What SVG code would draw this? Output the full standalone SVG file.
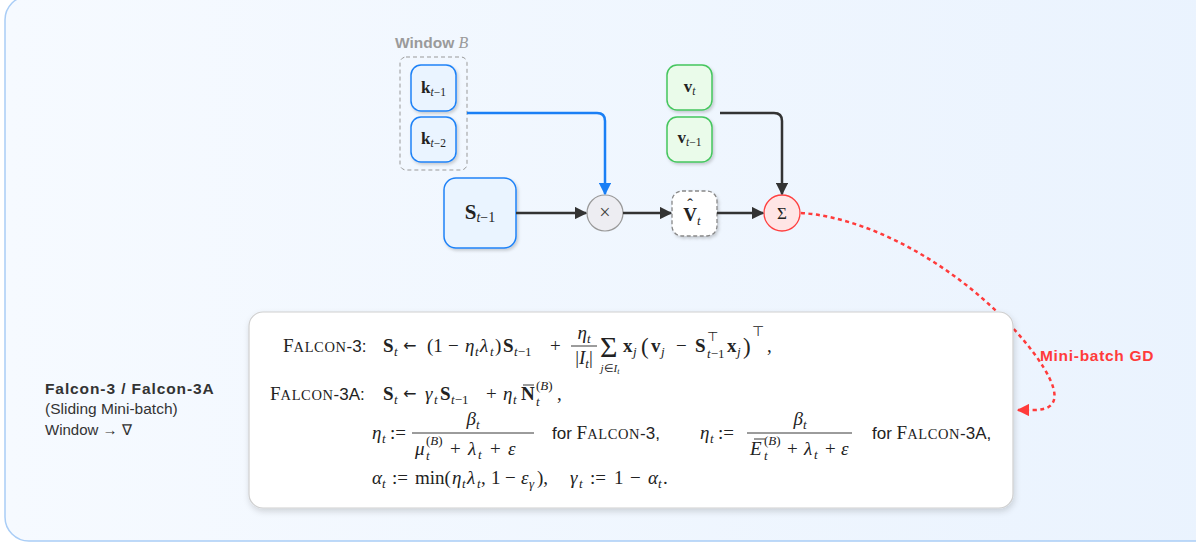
<svg xmlns="http://www.w3.org/2000/svg" width="1196" height="542" viewBox="0 0 1196 542">
<defs>
<linearGradient id="bg" x1="0" y1="0" x2="1" y2="0"><stop offset="0" stop-color="#f6faff"/><stop offset="1" stop-color="#eaf3fe"/></linearGradient>
<filter id="sh" x="-30%" y="-30%" width="160%" height="160%"><feDropShadow dx="1.5" dy="2" stdDeviation="1.8" flood-color="#000" flood-opacity="0.18"/></filter>
<filter id="shb" x="-10%" y="-10%" width="120%" height="130%"><feDropShadow dx="1" dy="3" stdDeviation="3" flood-color="#000" flood-opacity="0.15"/></filter>
<marker id="ab" viewBox="0 0 10 10" refX="9" refY="5" markerWidth="5" markerHeight="5" orient="auto" markerUnits="strokeWidth"><path d="M0,0 L10,5 L0,10 z" fill="#1a7ff5"/></marker>
<marker id="ak" viewBox="0 0 10 10" refX="9" refY="5" markerWidth="5" markerHeight="5" orient="auto" markerUnits="strokeWidth"><path d="M0,0 L10,5 L0,10 z" fill="#333"/></marker>
<marker id="ar" viewBox="0 0 10 10" refX="9" refY="5" markerWidth="5" markerHeight="5" orient="auto" markerUnits="strokeWidth"><path d="M0,0 L10,5 L0,10 z" fill="#ff3b3b"/></marker>
<style>
.m{font-family:"Liberation Serif",serif;font-size:19px;fill:#222}
.s{font-size:13px}
.b{font-weight:bold}
.i{font-style:italic}
.n{font-style:normal}
.ar{font-family:"DejaVu Sans",sans-serif;font-size:16px}
.sf{font-family:"Liberation Sans",sans-serif}
.sc{font-size:14.5px;letter-spacing:0.6px}
.sfm{font-family:"Liberation Sans",sans-serif;font-size:17px}
.kb{fill:#eaf4ff;stroke:#1f82f7;stroke-width:1.5}
.vb{fill:#eafbea;stroke:#45c65e;stroke-width:1.5}
.conn{fill:none;stroke-width:2.5}
.bar{stroke:#222;stroke-width:0.9}
</style>
</defs>
<rect x="5" y="-4" width="1215" height="545" rx="24" fill="url(#bg)" stroke="#a9cdf6" stroke-width="1.5"/>

<g id="window">
<text x="395" y="48" class="sf" font-size="15.5" font-weight="bold" fill="#9a9a9a">Window <tspan class="m i" style="font-size:16px;font-weight:normal;fill:#9a9a9a">B</tspan></text>
<rect x="400" y="57" width="67" height="113" rx="6" fill="none" stroke="#999" stroke-width="1" stroke-dasharray="4 3"/>
</g>
<g id="k1"><rect x="411" y="65" width="45" height="46" rx="10" class="kb" filter="url(#sh)"/>
<text x="433.5" y="93" class="m" text-anchor="middle"><tspan class="b" font-size="17">k</tspan><tspan font-size="11.5" dy="3"><tspan class="i">t</tspan>−1</tspan></text></g>
<g id="k2"><rect x="411" y="117" width="45" height="45" rx="10" class="kb" filter="url(#sh)"/>
<text x="433.5" y="144" class="m" text-anchor="middle"><tspan class="b" font-size="17">k</tspan><tspan font-size="11.5" dy="3"><tspan class="i">t</tspan>−2</tspan></text></g>
<g id="S"><rect x="444" y="178" width="72" height="70" rx="12" class="kb" filter="url(#sh)"/>
<text x="480" y="219" class="m" text-anchor="middle"><tspan class="b" font-size="21">S</tspan><tspan font-size="14" dy="3"><tspan class="i">t</tspan>−1</tspan></text></g>
<g id="mul"><circle cx="605" cy="213" r="18" fill="#ededf2" stroke="#999" stroke-width="1.2"/>
<text x="605" y="219" class="m" style="font-size:20px;fill:#444" text-anchor="middle">×</text></g>
<g id="vhat"><rect x="672" y="191" width="45" height="45" rx="10" fill="#fff" stroke="#888" stroke-width="1.3" stroke-dasharray="4 2.5" filter="url(#sh)"/>
<text x="690" y="221" class="m b" text-anchor="middle">V</text>
<text x="690" y="210" class="m" style="font-size:17px" text-anchor="middle">ˆ</text>
<text x="697" y="225" class="m i" style="font-size:13px">t</text></g>
<g id="sum"><circle cx="782" cy="213" r="18" fill="#ffe5e5" stroke="#ff4040" stroke-width="1.3"/>
<text x="782" y="219" class="m" style="font-size:17px" text-anchor="middle">Σ</text></g>
<g id="v1"><rect x="667" y="65" width="45" height="45" rx="10" class="vb" filter="url(#sh)"/>
<text x="689.5" y="92" class="m" text-anchor="middle"><tspan class="b" font-size="17">v</tspan><tspan font-size="11.5" dy="3" class="i">t</tspan></text></g>
<g id="v2"><rect x="667" y="117" width="45" height="45" rx="10" class="vb" filter="url(#sh)"/>
<text x="689.5" y="143" class="m" text-anchor="middle"><tspan class="b" font-size="17">v</tspan><tspan font-size="11.5" dy="3"><tspan class="i">t</tspan>−1</tspan></text></g>

<g id="connectors">
<path class="conn" stroke="#1a7ff5" d="M467,113 H597 Q605,113 605,121 V194" marker-end="url(#ab)"/>
<path class="conn" stroke="#333" d="M516,213 H586" marker-end="url(#ak)"/>
<path class="conn" stroke="#333" d="M623,213 H671" marker-end="url(#ak)"/>
<path class="conn" stroke="#333" d="M717,213 H763" marker-end="url(#ak)"/>
<path class="conn" stroke="#333" d="M720,113 H774 Q782,113 782,121 V194" marker-end="url(#ak)"/>
<path class="conn" stroke="#ff3b3b" stroke-width="3" stroke-dasharray="4 3.5" d="M801,213 C880,218 980,280 1036,356 C1060,390 1062,410 1034,410 L1018,410" marker-end="url(#ar)"/>
<text x="1040" y="361" class="sf" font-size="15.5" letter-spacing="0.7" font-weight="bold" fill="#ff3b3b">Mini-batch GD</text>
</g>

<g id="label">
<text x="45" y="394" class="sf" font-size="15.5" letter-spacing="0.9" font-weight="bold" fill="#333">Falcon-3 / Falcon-3A</text>
<text x="45" y="414" class="sf" font-size="15.5" fill="#333">(Sliding Mini-batch)</text>
<text x="45" y="435" class="sf" font-size="15" fill="#333">Window → ∇</text>
</g>

<g id="formulas">
<rect x="249" y="312" width="764" height="196" rx="14" fill="#fff" stroke="#cfcfcf" stroke-width="1.2" filter="url(#shb)"/>
<!-- line 1 -->
<text x="283" y="352" class="m">F<tspan class="sc">ALCON</tspan><tspan class="sfm">-3:</tspan></text>
<text class="m" y="352"><tspan x="383" class="b">S</tspan><tspan x="394" y="356" class="s i">t</tspan><tspan x="403" y="351" class="ar">←</tspan><tspan x="427" y="352">(1</tspan><tspan x="448">−</tspan><tspan x="465" class="i">η</tspan><tspan x="475" y="356" class="s i">t</tspan><tspan x="480" y="352" class="i">λ</tspan><tspan x="490" y="356" class="s i">t</tspan><tspan x="495" y="352">)</tspan><tspan x="503" class="b">S</tspan><tspan x="514" y="356" class="s"><tspan class="i">t</tspan>−1</tspan><tspan x="550" y="352">+</tspan></text>
<text x="584" y="339" class="m i" text-anchor="middle">η<tspan class="s" dy="4">t</tspan></text>
<line x1="571" y1="346" x2="597" y2="346" class="bar"/>
<text x="584" y="364" class="m" text-anchor="middle">|<tspan class="i">I</tspan><tspan class="s i" dy="4">t</tspan><tspan dy="-4">|</tspan></text>
<text x="600" y="357" class="m" style="font-size:30px">Σ</text>
<text x="610" y="372" class="m i" style="font-size:11px" text-anchor="middle">j<tspan class="n">∈</tspan>I<tspan style="font-size:8px" dy="2">t</tspan></text>
<text class="m" y="352"><tspan x="623" class="b">x</tspan><tspan x="633" y="356" class="s i">j</tspan><tspan x="641" y="354" style="font-size:23px">(</tspan><tspan x="651" y="352" class="b">v</tspan><tspan x="661" y="356" class="s i">j</tspan><tspan x="676" y="352">−</tspan><tspan x="695" class="b">S</tspan><tspan x="707" y="341" class="s">⊤</tspan><tspan x="707" y="358" class="s"><tspan class="i">t</tspan>−1</tspan><tspan x="727" y="352" class="b">x</tspan><tspan x="737" y="356" class="s i">j</tspan><tspan x="743" y="354" style="font-size:23px">)</tspan><tspan x="752" y="336" style="font-size:14px">⊤</tspan><tspan x="767" y="352">,</tspan></text>
<!-- line 2 -->
<text x="270" y="400" class="m">F<tspan class="sc">ALCON</tspan><tspan class="sfm">-3A:</tspan></text>
<text class="m" y="400"><tspan x="383" class="b">S</tspan><tspan x="394" y="404" class="s i">t</tspan><tspan x="403" y="399" class="ar">←</tspan><tspan x="425" y="400" class="i">γ</tspan><tspan x="434" y="404" class="s i">t</tspan><tspan x="440" y="400" class="b">S</tspan><tspan x="451" y="404" class="s"><tspan class="i">t</tspan>−1</tspan><tspan x="486" y="400">+</tspan><tspan x="503" class="i">η</tspan><tspan x="513" y="404" class="s i">t</tspan><tspan x="521" y="400" class="b">N</tspan><tspan x="536" y="390" class="s">(<tspan class="i">B</tspan>)</tspan><tspan x="536" y="406" class="s i">t</tspan><tspan x="557" y="400">,</tspan></text>
<line x1="523" y1="385" x2="534" y2="385" class="bar"/>
<!-- line 3 -->
<text class="m" y="439"><tspan x="372" class="i">η</tspan><tspan x="382" y="443" class="s i">t</tspan><tspan x="390" y="439">:=</tspan></text>
<text x="473" y="425" class="m i" text-anchor="middle">β<tspan class="s" dy="4">t</tspan></text>
<line x1="412" y1="433" x2="534" y2="433" class="bar"/>
<text class="m" y="455"><tspan x="415" class="i">μ</tspan><tspan x="426" y="445" class="s">(<tspan class="i">B</tspan>)</tspan><tspan x="426" y="460" class="s i">t</tspan><tspan x="450" y="455">+</tspan><tspan x="468" class="i">λ</tspan><tspan x="478" y="459" class="s i">t</tspan><tspan x="490" y="455">+</tspan><tspan x="508" class="i">ε</tspan></text>
<text x="552" y="439" class="m"><tspan class="sfm">for </tspan>F<tspan class="sc">ALCON</tspan><tspan class="sfm">-3,</tspan></text>
<text class="m" y="439"><tspan x="700" class="i">η</tspan><tspan x="710" y="443" class="s i">t</tspan><tspan x="718" y="439">:=</tspan></text>
<text x="800" y="425" class="m i" text-anchor="middle">β<tspan class="s" dy="4">t</tspan></text>
<line x1="747" y1="433" x2="852" y2="433" class="bar"/>
<text class="m" y="455"><tspan x="750" class="i">E</tspan><tspan x="764" y="445" class="s">(<tspan class="i">B</tspan>)</tspan><tspan x="764" y="460" class="s i">t</tspan><tspan x="787" y="455">+</tspan><tspan x="804" class="i">λ</tspan><tspan x="814" y="459" class="s i">t</tspan><tspan x="825" y="455">+</tspan><tspan x="841" class="i">ε</tspan></text>
<line x1="754" y1="439" x2="765" y2="439" class="bar"/>
<text x="872" y="439" class="m"><tspan class="sfm">for </tspan>F<tspan class="sc">ALCON</tspan><tspan class="sfm">-3A,</tspan></text>
<!-- line 4 -->
<text class="m" y="484"><tspan x="372" class="i">α</tspan><tspan x="382" y="488" class="s i">t</tspan><tspan x="392" y="484">:=</tspan><tspan x="415">min(</tspan><tspan x="452" class="i">η</tspan><tspan x="462" y="488" class="s i">t</tspan><tspan x="467" y="484" class="i">λ</tspan><tspan x="477" y="488" class="s i">t</tspan><tspan x="481" y="484">,</tspan><tspan x="491">1</tspan><tspan x="505">−</tspan><tspan x="521" class="i">ε</tspan><tspan x="529" y="488" class="s i">γ</tspan><tspan x="537" y="484">),</tspan><tspan x="570" class="i">γ</tspan><tspan x="579" y="488" class="s i">t</tspan><tspan x="590" y="484">:=</tspan><tspan x="614">1</tspan><tspan x="630">−</tspan><tspan x="648" class="i">α</tspan><tspan x="658" y="488" class="s i">t</tspan><tspan x="663" y="484">.</tspan></text>
</g>
</svg>
